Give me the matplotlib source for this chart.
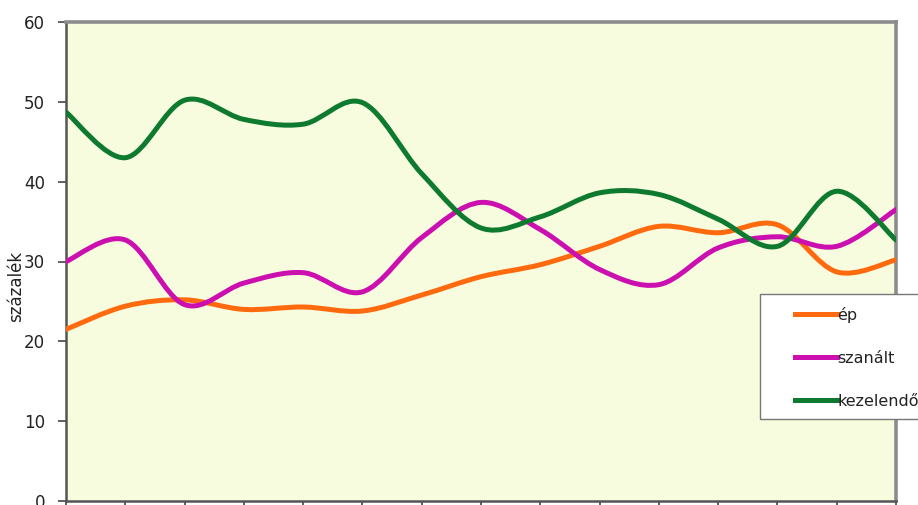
import numpy as np
import matplotlib
matplotlib.use("Agg")
import matplotlib.pyplot as plt
from matplotlib.path import Path
from matplotlib.patches import PathPatch, Rectangle

plt.rcParams['font.family'] = ['DejaVu Sans']

# Fifteen survey points along the horizontal axis (unlabelled)
periods = list(range(15))

ep = [21.5, 24.4, 25.2, 24.0, 24.3, 23.8, 25.8, 28.1, 29.6, 31.9, 34.4, 33.6, 34.6, 28.7, 30.2]
szanalt = [30.0, 32.7, 24.6, 27.3, 28.6, 26.2, 33.0, 37.4, 34.0, 29.0, 27.1, 31.7, 33.1, 31.9, 36.5]
kezelendo = [48.7, 43.0, 50.2, 47.8, 47.2, 49.9, 41.0, 34.2, 35.6, 38.6, 38.4, 35.3, 31.9, 38.8, 32.7]

series_names = ["ép", "szanált", "kezelendő"]
series_colors = ["#FF6A0E", "#CC10B0", "#0E7A30"]

y_ticks = [0, 10, 20, 30, 40, 50, 60]


def smooth_path(xs, ys):
    """Catmull-Rom style cubic Bezier through every point."""
    pts = np.column_stack([np.asarray(xs, float), np.asarray(ys, float)])
    n = len(pts)
    verts = [pts[0]]
    codes = [Path.MOVETO]
    for i in range(n - 1):
        p0 = pts[i - 1] if i > 0 else pts[i]
        p1 = pts[i]
        p2 = pts[i + 1]
        p3 = pts[i + 2] if i + 2 < n else pts[i + 1]
        verts += [p1 + (p2 - p0) / 6.0, p2 - (p3 - p1) / 6.0, p2]
        codes += [Path.CURVE4] * 3
    return Path(verts, codes)


W, H = 918, 505
fig = plt.figure(figsize=(W / 100, H / 100), dpi=100)
fig.patch.set_facecolor("white")

left, right, top, bottom = 66, 896, 22, 501
ax = fig.add_axes([left / W, 1 - bottom / H, (right - left) / W, (bottom - top) / H])
ax.set_facecolor("#F8FCDF")
ax.set_xlim(periods[0], periods[-1])
ax.set_ylim(0, 60)

handles = []
for vals, name, col in zip([ep, szanalt, kezelendo], series_names, series_colors):
    patch = PathPatch(smooth_path(periods, vals), facecolor="none", edgecolor=col,
                      lw=3.6, capstyle="round", joinstyle="round", zorder=3)
    ax.add_patch(patch)
    h, = ax.plot([], [], color=col, lw=3.6, label=name)
    handles.append(h)

ax.set_yticks(y_ticks)
ax.set_yticklabels([str(v) for v in y_ticks])
ax.set_xticks(periods)
ax.set_xticklabels([])
ax.tick_params(axis="y", direction="out", length=6, width=1.2, color="#444444",
               labelsize=12, labelcolor="#222222", pad=9)
ax.tick_params(axis="x", direction="out", length=5, width=1.2, color="#444444")

for side in ["top", "right"]:
    ax.spines[side].set_color("#8C8C8C")
    ax.spines[side].set_linewidth(2.6)
for side in ["left", "bottom"]:
    ax.spines[side].set_color("#555555")
    ax.spines[side].set_linewidth(1.8)

fig.text(16 / W, 1 - 286 / H, "százalék", rotation=90, ha="center", va="center",
         fontsize=12, color="#222222")

# Legend box (extends past the right edge of the canvas)
box_l, box_t, box_r, box_b = 760, 294, 940, 419
fig.add_artist(Rectangle((box_l / W, 1 - box_b / H), (box_r - box_l) / W, (box_b - box_t) / H,
                         transform=fig.transFigure, facecolor="white",
                         edgecolor="#777777", lw=1.0, zorder=4))
leg = fig.legend(handles=handles, loc="upper left",
                 bbox_to_anchor=(795 / W, 1 - 307 / H), bbox_transform=fig.transFigure,
                 frameon=False, fontsize=11.5, handlelength=2.6,
                 handletextpad=0.05, labelspacing=1.75, borderpad=0,
                 borderaxespad=0)
leg.set_zorder(5)
for t in leg.get_texts():
    t.set_color("#222222")

fig.savefig("out.png", dpi=100)
